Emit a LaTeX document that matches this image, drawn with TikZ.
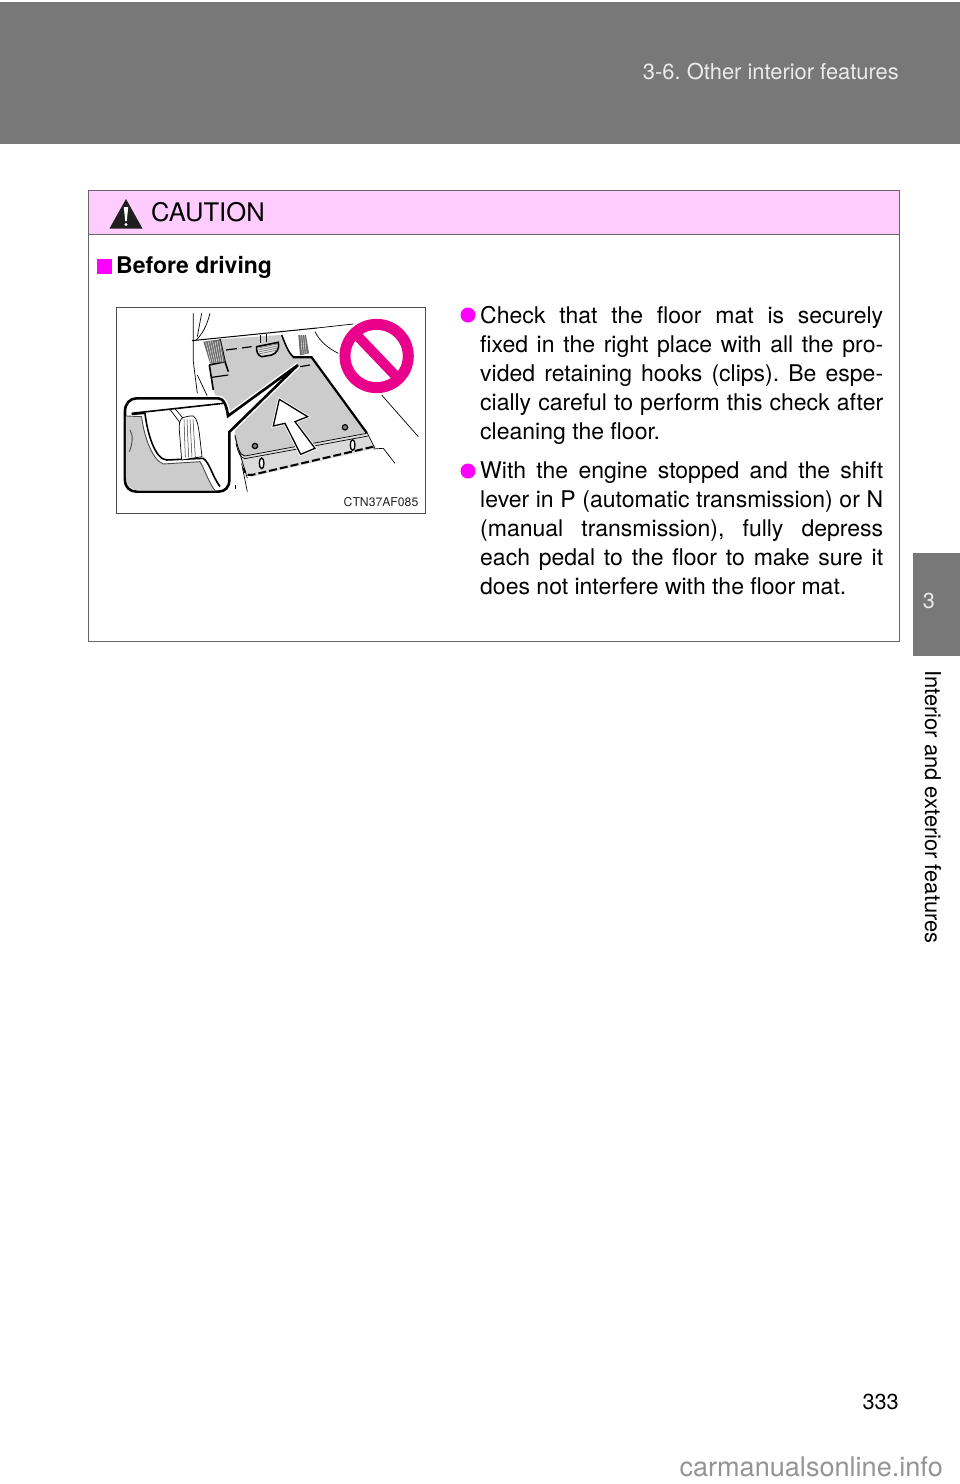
\documentclass[tikz,border=0pt]{standalone}
\usepackage{fontspec}
\setmainfont{TeX Gyre Heros}
\definecolor{bandgray}{gray}{0.47}
\definecolor{cautionpink}{RGB}{255,204,255}
\definecolor{bulletpink}{RGB}{255,0,255}
\definecolor{signpink}{RGB}{233,0,139}
\definecolor{matgray}{gray}{0.8}
\tikzset{
  bodytext/.style={anchor=north west, inner sep=0pt, text width=403pt, align=justify, font=\fontsize{23}{29}\selectfont},
  bullet/.style={circle, fill=bulletpink, minimum size=15pt, inner sep=0pt},
  thinline/.style={black, line width=0.7pt},
  matline/.style={black, line width=1.6pt},
}
\begin{document}
\frenchspacing
\begin{tikzpicture}[x=1pt, y=-1pt]
\useasboundingbox (0,0) rectangle (960,1484);
\fill[white] (0,0) rectangle (960,1484);
% header and side tab
\fill[bandgray] (0,2) rectangle (960,144);
\fill[bandgray] (913,553) rectangle (960,656);
\node[anchor=east, inner sep=0pt, white!92!black, font=\fontsize{21.9}{24}\selectfont] (head) at (899,72) {3-6. Other interior features};
\node[white!92!black, inner sep=0pt, font=\fontsize{21.7}{24}\selectfont] (tabnum) at (929,601) {3};
\node[rotate=-90, anchor=west, inner sep=0pt, font=\fontsize{21.9}{24}\selectfont] (tabtext) at (933,670) {Interior and exterior features};
\node[anchor=east, inner sep=0pt, font=\fontsize{21.7}{24}\selectfont] (pagenum) at (899,1402) {333};
% caution box
\fill[cautionpink] (88,190) rectangle (899,234);
\draw[black!60, line width=1pt] (88,190) rectangle (899,641);
\draw[black!60, line width=1pt] (88,234) -- (899,234);
\fill[black!88] (126,199) -- (142.5,228.5) -- (109.5,228.5) -- cycle;
\fill[white] (123.8,207) -- (128.2,207) -- (126.8,221) -- (125.2,221) -- cycle;
\fill[white] (126,224.5) circle (1.7);
\node[anchor=west, inner sep=0pt, font=\fontsize{25.6}{30}\selectfont] (cautiontitle) at (151,212) {CAUTION};
\fill[bulletpink] (97,259) rectangle (112,274);
\node[anchor=west, inner sep=0pt, font=\bfseries\fontsize{23}{28}\selectfont] (beforetitle) at (116,267) {Before driving};
% text
\node[bullet] (dotone) at (468,315) {};
\node[bodytext] (checktext) at (480,306) {Check that the floor mat is securely\linebreak
fixed in the right place with all the pro-\linebreak
vided retaining hooks (clips). Be espe-\linebreak
cially careful to perform this check after\linebreak
cleaning the floor.};
\node[bullet] (dottwo) at (468,471) {};
\node[bodytext] (enginetext) at (480,461) {With the engine stopped and the shift\linebreak
lever in P (automatic transmission) or N\linebreak
(manual transmission), fully depress\linebreak
each pedal to the floor to make sure it\linebreak
does not interfere with the floor mat.};
% illustration
\draw[black!70, line width=0.9pt] (116,307) rectangle (425,513);
\begin{scope}[shift={(110,300)}, x=0.3333pt, y=-0.3333pt]
% floor and sill
\fill[black!14] (375,420) -- (770,395) -- (795,445) -- (425,530) .. controls (412,530) and (405,525) .. (400,510) -- cycle;
\draw[thinline] (250,40) -- (250,185) -- (262,280);
\draw[thinline] (262,225) -- (295,295);
\draw[thinline] (300,40) .. controls (290,80) and (275,105) .. (258,120);
\draw[thinline] (275,40) -- (262,110);
\draw[line width=1pt] (246,122) -- (621,84);
\draw[thinline] (621,84) -- (730,72);
\draw[thinline] (615,95) .. controls (630,125) and (655,145) .. (685,160);
\draw[thinline] (815,285) -- (925,410);
\draw[thinline] (790,447) -- (820,445) -- (855,490);
\draw[thinline] (770,395) -- (795,445);
\draw[thinline] (375,410) -- (412,535);
\draw[thinline] (395,490) -- (412,575);
\draw[thinline] (375,555) -- (375,568);
% mat
\fill[matgray] (330,118) -- (510,105) -- (530,150) -- (552,172) -- (605,172) -- (770,398) -- (405,468)
  .. controls (390,465) and (385,450) .. (375,405) -- (375,378) -- (340,350) -- (310,270) -- (298,195) -- cycle;
\draw[matline] (330,118) -- (345,185) -- (355,215);
\draw[matline] (298,195) -- (345,185);
\draw[matline] (298,195) -- (310,270);
\draw[line width=2.2pt] (548,172) -- (605,172) -- (770,398);
\draw[thinline] (770,400) -- (405,468) .. controls (390,465) and (385,450) .. (375,405);
\draw[thinline] (775,408) -- (405,476) .. controls (392,474) and (385,460) .. (378,430);
\draw[line width=2pt, dash pattern=on 8pt off 3pt] (790,440) -- (425,525) .. controls (412,527) and (405,520) .. (400,505);
\draw[matline] (515,105) .. controls (525,130) and (535,160) .. (552,172);
% pedals
\fill[black!58] (280,125) -- (330,118) -- (345,185) -- (300,190) -- cycle;
\foreach \i in {0,1,2,3,4,5,6} {
  \draw[white, line width=0.4pt] (287+\i*7,124) -- (303+\i*6,188);
}
\fill[black!58] (565,105) -- (588,105) -- (597,160) -- (570,166) -- cycle;
\foreach \i in {0,1,2} {
  \draw[white, line width=0.4pt] (572+\i*6,105) -- (577+\i*6,163);
}
\draw[thinline] (452,105) -- (452,130);
\draw[thinline] (470,103) -- (470,127);
\draw[matline, fill=black!12] (440,140) -- (505,127) .. controls (510,145) and (500,160) .. (485,165) -- (455,170) .. controls (445,168) and (438,155) .. (440,140) -- cycle;
\foreach \i in {0,1,2,3} {
  \draw[black!70, line width=0.4pt] (445,144+\i*6) -- (503,132+\i*6);
}
\draw[line width=1.2pt, dash pattern=on 11pt off 5pt] (348,150) -- (425,140);
\draw[line width=1.2pt] (305,232) -- (355,225);
\draw[line width=1.2pt] (570,200) -- (600,195);
% holes and hooks
\draw[black, line width=1.2pt, fill=black!50] (435,438) circle (8);
\draw[black, line width=1.2pt, fill=black!50] (705,382) circle (8);
\draw[black, line width=1.3pt, fill=white] (455,490) ellipse (7 and 16);
\draw[black, line width=1.3pt, fill=white] (728,435) ellipse (7 and 16);
% arrow
\draw[black, line width=1.3pt, fill=white, preaction={draw=white, line width=3pt}] (508,298) -- (593,350) -- (555,365) -- (615,445) -- (572,463) -- (525,370) -- (490,378) -- cycle;
% callout
\draw[line width=2.6pt, fill=white, line join=miter, preaction={draw=white, line width=5.5pt}] (80,295) -- (325,295) .. controls (340,295) and (350,315) .. (354,348) -- (564,195) -- (358,396) -- (358,540) .. controls (358,562) and (345,575) .. (325,575) -- (80,575) .. controls (60,575) and (45,562) .. (45,540) -- (45,335) .. controls (45,310) and (60,295) .. (80,295) -- cycle;
\begin{scope}
\clip[rounded corners=13pt] (48,298) rectangle (355,572);
\fill[matgray] (48,348) -- (95,350) .. controls (100,400) and (125,480) .. (160,492) -- (270,485) .. controls (285,510) and (295,545) .. (315,572) -- (48,575) -- cycle;
\draw[matline] (65,340) -- (340,310);
\draw[thinline] (180,328) -- (215,375);
\draw[thinline] (195,326) -- (222,358);
\draw[matline] (65,343) -- (105,340) .. controls (112,400) and (135,478) .. (170,480) -- (280,475) .. controls (300,490) and (305,525) .. (330,560);
\draw[black!70, line width=0.9pt] (48,348) -- (95,350) .. controls (100,400) and (125,480) .. (160,492) -- (270,485) .. controls (285,510) and (295,545) .. (315,572);
\draw[black!70, line width=0.9pt] (60,390) .. controls (70,405) and (68,430) .. (58,455);
\end{scope}
\draw[thinline, fill=white] (215,355) .. controls (225,350) and (240,347) .. (250,348) .. controls (262,355) and (265,380) .. (268,400) -- (276,470) -- (215,480) -- (208,390) .. controls (207,375) and (208,365) .. (215,355) -- cycle;
\foreach \i in {0,1,2,3} {
  \draw[black!80, line width=0.5pt] (222+\i*9,358) -- (226+\i*10,472);
}
% no-entry sign
\draw[signpink, line width=11pt] (800,168) circle (95);
\draw[signpink, line width=10pt] (735,100) -- (865,236);
\end{scope}
\node[anchor=east, inner sep=0pt, black!85, font=\fontsize{12.2}{14}\selectfont] (partcode) at (418.5,502) {CTN37AF085};
% watermark
\node[anchor=east, inner sep=0pt, black!42, font=\fontsize{27.1}{28}\selectfont] (watermark) at (943,1467) {carmanualsonline.info};
\end{tikzpicture}
\end{document}
